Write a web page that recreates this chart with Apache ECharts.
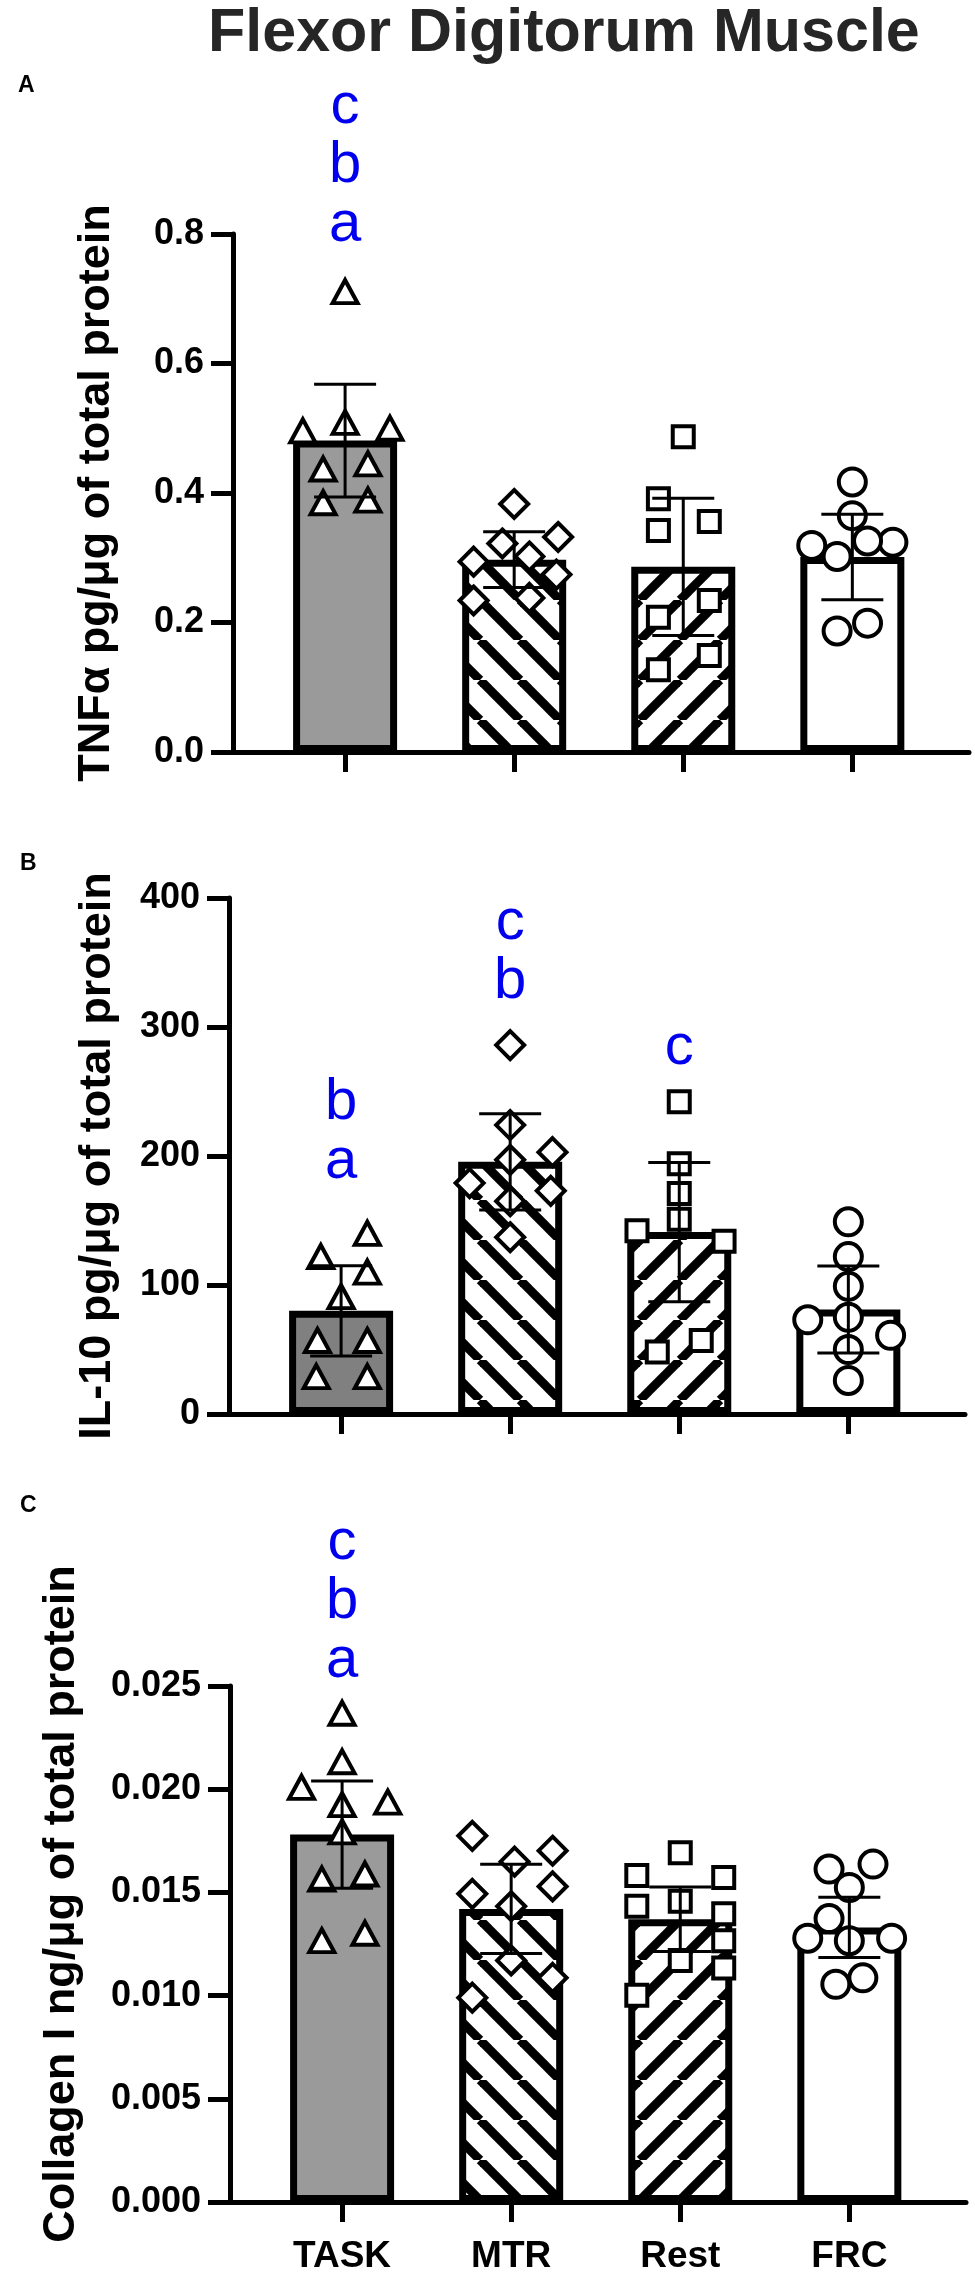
<!DOCTYPE html>
<html>
<head>
<meta charset="UTF-8">
<script src="https://cdn.jsdelivr.net/npm/echarts@6.0.0/dist/echarts.min.js"></script>
<style>
  body { margin: 0; background: #fff; }
  #main { width: 975px; height: 2275px; }
</style>
</head>
<body>
<div id="main"></div>
<script>
var groups = ['TASK', 'MTR', 'Rest', 'FRC'];
var symbols = ['triangle', 'diamond', 'rect', 'circle'];

// panel A - TNF alpha
var tnfMean = [0.481, 0.297, 0.286, 0.301];
var tnfSd = [0.087, 0.043, 0.106, 0.066];
var tnfPoints = [
  [0.711, 0.496, 0.509, 0.500, 0.437, 0.445, 0.385, 0.389],
  [0.383, 0.294, 0.322, 0.302, 0.332, 0.274, 0.234, 0.238],
  [0.487, 0.391, 0.356, 0.342, 0.234, 0.208, 0.149, 0.127],
  [0.417, 0.365, 0.319, 0.324, 0.326, 0.302, 0.187, 0.199]
];
var tnfJitter = [
  [0, -0.25, 0, 0.265, -0.13, 0.135, -0.13, 0.135],
  [0, -0.24, -0.07, 0.09, 0.26, 0.25, -0.24, 0.09],
  [0, -0.147, 0.154, -0.147, 0.154, -0.147, 0.154, -0.147],
  [0, 0, -0.24, 0.24, 0.09, -0.09, -0.09, 0.09]
];
var tnfLetters = [[1, 0.814, 'abc']];

// panel B - IL-10
var ilMean = [80, 195.5, 141, 81];
var ilSd = [35, 37.3, 54, 33.8];
var ilPoints = [
  [122, 140, 110, 91, 57, 57, 29, 29],
  [286, 224, 203, 197, 179, 173, 165, 137],
  [242, 194, 171, 151, 142, 134, 57, 48],
  [149, 122, 99, 73, 75, 61, 50, 26]
];
var ilJitter = [
  [-0.12, 0.155, 0.155, 0, -0.14, 0.155, -0.147, 0.155],
  [0, 0, 0.25, 0, -0.24, 0.24, 0, 0],
  [0, 0, 0, 0, -0.25, 0.265, 0.13, -0.13],
  [0, 0, 0, -0.24, 0, 0.25, 0, 0]
];
var ilLetters = [[1, 195, 'ab'], [2, 335, 'bc'], [3, 284, 'c']];

// panel C - Collagen I
var colMean = [0.0178, 0.0142, 0.0137, 0.0133];
var colSd = [0.0026, 0.00216, 0.00156, 0.00146];
var colPoints = [
  [0.02368, 0.02133, 0.02009, 0.01925, 0.01937, 0.01793, 0.01565, 0.01589, 0.01266, 0.01302],
  [0.01774, 0.01702, 0.01649, 0.01493, 0.01529, 0.01433, 0.0117, 0.01086, 0.0099],
  [0.01692, 0.01582, 0.01572, 0.01433, 0.01457, 0.01397, 0.01266, 0.0117, 0.01134, 0.01002],
  [0.01637, 0.01613, 0.01524, 0.01373, 0.01278, 0.01266, 0.01278, 0.01086, 0.01055]
];
var colJitter = [
  [0, 0, -0.24, 0, 0.27, 0, -0.12, 0.135, -0.12, 0.135],
  [-0.23, 0.245, 0.02, -0.23, 0.245, 0, 0, 0.245, -0.23],
  [0, -0.257, 0.257, -0.257, 0, 0.257, 0.257, 0, 0.257, -0.257],
  [0.14, -0.12, 0, -0.12, -0.246, 0, 0.25, 0.08, -0.08]
];
var colLetters = [[1, 0.0262, 'abc']];

var FONT = 'Liberation Sans, Arial, sans-serif';

function stripes(dir) {
  var c = document.createElement('canvas');
  c.width = 40; c.height = 40;
  var g = c.getContext('2d');
  g.fillStyle = '#fff';
  g.fillRect(0, 0, 40, 40);
  g.strokeStyle = '#000';
  g.lineWidth = 9;
  for (var k = -1; k <= 1; k++) {
    g.beginPath();
    if (dir > 0) { g.moveTo(k * 40, 40); g.lineTo(k * 40 + 40, 0); }
    else { g.moveTo(k * 40, 0); g.lineTo(k * 40 + 40, 40); }
    g.stroke();
  }
  return c;
}
var backSlash = { image: stripes(-1), repeat: 'repeat' };
var fwdSlash = { image: stripes(1), repeat: 'repeat' };

function renderErr(params, api) {
  var x = api.value(0), m = api.value(1), s = api.value(2);
  var top = api.coord([x, m + s]);
  var bot = api.coord([x, m - s]);
  var half = 31;
  var st = { stroke: '#000', lineWidth: 3 };
  return {
    type: 'group',
    children: [
      { type: 'line', shape: { x1: top[0], y1: top[1], x2: bot[0], y2: bot[1] }, style: st },
      { type: 'line', shape: { x1: top[0] - half, y1: top[1], x2: top[0] + half, y2: top[1] }, style: st },
      { type: 'line', shape: { x1: bot[0] - half, y1: bot[1], x2: bot[0] + half, y2: bot[1] }, style: st }
    ]
  };
}

// stacked significance letters, drawn bottom-up from the anchor value
function letterRenderer(list) {
  return function (params, api) {
    var item = list[params.dataIndex];
    var p = api.coord([item[0], item[1]]);
    var kids = [];
    for (var i = 0; i < item[2].length; i++) {
      kids.push({
        type: 'text',
        x: p[0],
        y: p[1] - i * 59,
        style: {
          text: item[2][i],
          fill: '#0000ee',
          font: '58px ' + FONT,
          align: 'center',
          verticalAlign: 'middle'
        }
      });
    }
    return { type: 'group', children: kids };
  };
}

var panels = [
  { mean: tnfMean, sd: tnfSd, pts: tnfPoints, jit: tnfJitter, letters: tnfLetters,
    max: 0.8, interval: 0.2, dec: 1, gray: '#9a9a9a',
    name: 'TNFα pg/μg of total protein', nameGap: 114, namePad: 0, labels: false },
  { mean: ilMean, sd: ilSd, pts: ilPoints, jit: ilJitter, letters: ilLetters,
    max: 400, interval: 100, dec: 0, gray: '#808080',
    name: 'IL-10 pg/μg of total protein', nameGap: 109, namePad: 0, labels: false },
  { mean: colMean, sd: colSd, pts: colPoints, jit: colJitter, letters: colLetters,
    max: 0.025, interval: 0.005, dec: 3, gray: '#9a9a9a',
    name: 'Collagen I ng/μg of total protein', nameGap: 146, namePad: 80, labels: true }
];

var grids = [
  { left: 233, top: 234, width: 736, height: 518 },
  { left: 229, top: 898, width: 736, height: 516 },
  { left: 230, top: 1686, width: 736, height: 518 }
];

var xAxes = [], yAxes = [], series = [];
panels.forEach(function (pn, k) {
  xAxes.push({
    type: 'value', gridIndex: k, min: 0.337, max: 4.69,
    splitLine: { show: false },
    axisLine: { show: true, onZero: false, lineStyle: { color: '#000', width: 5 } },
    axisTick: { show: true, length: 20, customValues: [1, 2, 3, 4], lineStyle: { color: '#000', width: 5 } },
    axisLabel: {
      show: pn.labels, customValues: [1, 2, 3, 4], margin: 36,
      formatter: function (v) { return groups[Math.round(v) - 1]; },
      color: '#000', fontSize: 37, fontWeight: 'bold', fontFamily: FONT
    }
  });
  yAxes.push({
    type: 'value', gridIndex: k, min: 0, max: pn.max, interval: pn.interval,
    splitLine: { show: false },
    axisLine: { show: true, onZero: false, lineStyle: { color: '#000', width: 5 } },
    axisTick: { show: true, length: 22, lineStyle: { color: '#000', width: 5 } },
    axisLabel: {
      margin: 29, color: '#000', fontSize: 36, fontWeight: 'bold', fontFamily: FONT,
      formatter: (function (d) { return function (v) { return v.toFixed(d); }; })(pn.dec)
    },
    name: pn.name, nameLocation: 'middle', nameRotate: 90, nameGap: pn.nameGap,
    nameTextStyle: { color: '#000', fontSize: 45, fontWeight: 'bold', fontFamily: FONT,
      padding: [0, 0, 0, pn.namePad] }
  });

  var fills = [pn.gray, backSlash, fwdSlash, '#fff'];
  series.push({
    type: 'bar', xAxisIndex: k, yAxisIndex: k, barWidth: 104, z: 2,
    data: pn.mean.map(function (m, i) {
      return { value: [i + 1, m], itemStyle: { color: fills[i], borderColor: '#000', borderWidth: 7 } };
    })
  });

  var pts = [];
  pn.pts.forEach(function (vals, i) {
    vals.forEach(function (v, j) {
      pts.push({ value: [i + 1 + pn.jit[i][j], v], symbol: symbols[i],
        symbolSize: [[25, 23], [28, 28], [21, 21], [27, 27]][i] });
    });
  });
  series.push({
    type: 'scatter', xAxisIndex: k, yAxisIndex: k, z: 3,
    itemStyle: { color: '#fff', borderColor: '#000', borderWidth: 4, opacity: 1 },
    data: pts
  });

  series.push({
    type: 'custom', xAxisIndex: k, yAxisIndex: k, z: 4,
    renderItem: renderErr,
    encode: { x: 0, y: 1 },
    data: pn.mean.map(function (m, i) { return [i + 1, m, pn.sd[i]]; })
  });

  series.push({
    type: 'custom', xAxisIndex: k, yAxisIndex: k, z: 5, clip: false,
    renderItem: letterRenderer(pn.letters),
    encode: { x: 0, y: 1 },
    data: pn.letters.map(function (l) { return [l[0], l[1]]; })
  });
});

var chart = echarts.init(document.getElementById('main'));
chart.setOption({
  animation: false,
  backgroundColor: '#fff',
  title: [
    { text: 'Flexor Digitorum Muscle', left: 208, top: 4, padding: 0,
      textStyle: { fontSize: 61, fontWeight: 'bold', color: '#262626', fontFamily: FONT } },
    { text: 'A', left: 18, top: 74, padding: 0,
      textStyle: { fontSize: 23, fontWeight: 'bold', color: '#000', fontFamily: FONT } },
    { text: 'B', left: 20, top: 852, padding: 0,
      textStyle: { fontSize: 23, fontWeight: 'bold', color: '#000', fontFamily: FONT } },
    { text: 'C', left: 20, top: 1494, padding: 0,
      textStyle: { fontSize: 23, fontWeight: 'bold', color: '#000', fontFamily: FONT } }
  ],
  grid: grids,
  xAxis: xAxes,
  yAxis: yAxes,
  series: series
});
</script>
</body>
</html>
